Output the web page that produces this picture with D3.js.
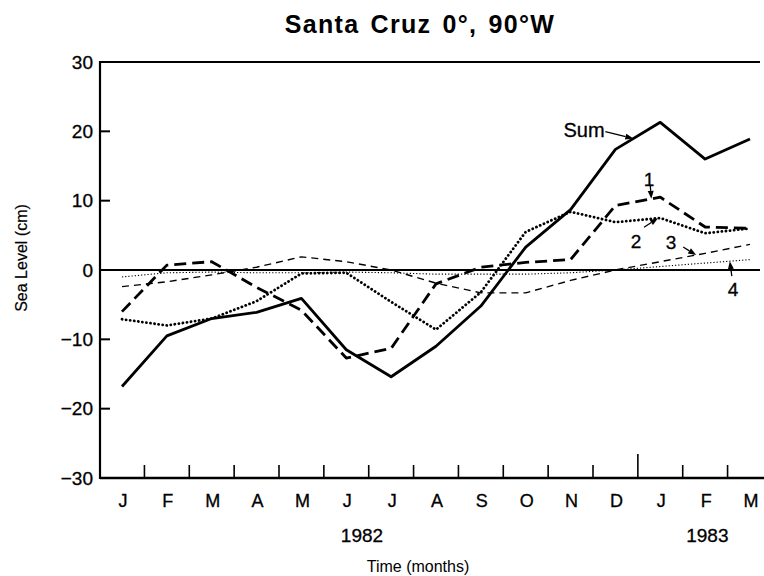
<!DOCTYPE html>
<html>
<head>
<meta charset="utf-8">
<script src="https://cdn.jsdelivr.net/npm/d3@7"></script>
<style>
  html, body { margin: 0; padding: 0; background: #fff; }
  svg { display: block; font-family: "Liberation Sans", Arial, Helvetica, sans-serif; }
</style>
</head>
<body>
<svg id="chart" width="764" height="576"></svg>
<script>
// ---- data ----
const months = ["J","F","M","A","M","J","J","A","S","O","N","D","J","F","M"];
const yearLabels = [{label: "1982", at: 5.35}, {label: "1983", at: 13.05}];
const yTicks = [-30, -20, -10, 0, 10, 20, 30];
const sumSeries = [-16.8, -9.5, -7.0, -6.1, -4.1, -11.5, -15.4, -11.0, -5.2, 3.3, 8.7, 17.4, 21.3, 16.0, 18.9];
const series1 = [-6.0, 0.7, 1.2, -2.5, -5.8, -12.7, -11.3, -2.0, 0.4, 1.1, 1.5, 9.3, 10.5, 6.2, 6.0];
const series2 = [-7.1, -8.0, -7.0, -4.5, -0.5, -0.4, -4.6, -8.6, -3.2, 5.5, 8.4, 6.9, 7.5, 5.3, 6.0];
const series3 = [-2.4, -1.7, -0.7, 0.4, 1.9, 1.2, 0.0, -1.9, -3.3, -3.3, -1.5, 0.0, 1.2, 2.4, 3.7];
const series4 = [-1.0, -0.4, -0.3, -0.4, -0.4, -0.3, -0.4, -0.6, -0.6, -0.6, -0.4, 0.0, 0.5, 1.0, 1.5];

const svg = d3.select("#chart");
const pLeft = 100, pTop = 62, pBottom = 478, pRight = 760;

const x = d3.scaleLinear().domain([0, months.length - 1]).range([122, 750]);
const y = d3.scaleLinear().domain([-30, 30]).range([pBottom, pTop]);
const step = x(1) - x(0);

// Title
svg.append("text").attr("x", 420).attr("y", 33).attr("text-anchor", "middle")
  .attr("font-size", 25).attr("font-weight", "bold")
  .attr("letter-spacing", 1.3).attr("word-spacing", 3)
  .text("Santa Cruz 0°, 90°W");

// Frame: left axis, top line, bottom axis
svg.append("line").attr("x1", pLeft).attr("x2", pLeft).attr("y1", pTop - 1).attr("y2", pBottom + 1)
  .attr("stroke", "#000").attr("stroke-width", 2.2);
svg.append("line").attr("x1", pLeft).attr("x2", pRight).attr("y1", pTop).attr("y2", pTop)
  .attr("stroke", "#000").attr("stroke-width", 2.2);
svg.append("line").attr("x1", pLeft).attr("x2", 764).attr("y1", pBottom).attr("y2", pBottom)
  .attr("stroke", "#000").attr("stroke-width", 2.6);
// zero line
svg.append("line").attr("x1", pLeft).attr("x2", pRight).attr("y1", y(0)).attr("y2", y(0))
  .attr("stroke", "#000").attr("stroke-width", 1.8);

// Y ticks and labels
const yAxis = d3.axisLeft(y).tickValues(yTicks).tickSize(0).tickPadding(7)
  .tickFormat(d => d < 0 ? "\u2212" + Math.abs(d) : String(d));
const gy = svg.append("g").attr("transform", `translate(${pLeft},0)`).call(yAxis);
gy.select(".domain").remove();
gy.selectAll("text").attr("font-size", 19).attr("fill", "#000")
  .attr("stroke", "#000").attr("stroke-width", 0.3)
  .attr("font-family", "Liberation Sans, Arial, sans-serif");
svg.selectAll(".ytick").data(yTicks.filter(d => d !== 0 && Math.abs(d) !== 30)).enter()
  .append("line").attr("x1", pLeft).attr("x2", pLeft + 10)
  .attr("y1", d => y(d)).attr("y2", d => y(d)).attr("stroke", "#000").attr("stroke-width", 2);

// X ticks between months
const tickIdx = d3.range(months.length - 1);
svg.selectAll(".xtick").data(tickIdx).enter().append("line")
  .attr("x1", d => x(d) + step / 2).attr("x2", d => x(d) + step / 2)
  .attr("y1", pBottom).attr("y2", d => d === 11 ? pBottom - 24 : pBottom - 13)
  .attr("stroke", "#000").attr("stroke-width", 1.6);

// Month labels
svg.selectAll(".mlab").data(months).enter().append("text")
  .attr("x", (d, i) => x(i) + 1).attr("y", 507).attr("text-anchor", "middle")
  .attr("font-size", 18).attr("stroke", "#000").attr("stroke-width", 0.3).text(d => d);
svg.selectAll(".ylab").data(yearLabels).enter().append("text")
  .attr("x", d => x(d.at)).attr("y", 542).attr("text-anchor", "middle")
  .attr("font-size", 19).attr("stroke", "#000").attr("stroke-width", 0.3).text(d => d.label);

// Axis titles
svg.append("text").attr("x", 418).attr("y", 572).attr("text-anchor", "middle")
  .attr("font-size", 16).text("Time (months)");
svg.append("text").attr("transform", "translate(27,258) rotate(-90)").attr("text-anchor", "middle")
  .attr("font-size", 16).attr("stroke", "#000").attr("stroke-width", 0.2).text("Sea Level (cm)");

// Lines
const line = d3.line().x((d, i) => x(i)).y(d => y(d));
const seriesDefs = [
  {data: series4, width: 1.1, dash: "1.2,2", cap: "butt"},
  {data: series3, width: 1.4, dash: "7,5", cap: "butt"},
  {data: series2, width: 2.8, dash: "0.1,4", cap: "round"},
  {data: series1, width: 2.8, dash: "12,6", cap: "butt"},
  {data: sumSeries, width: 2.8, dash: null, cap: "butt"}
];
seriesDefs.forEach(s => {
  svg.append("path").datum(s.data).attr("d", line).attr("fill", "none")
    .attr("stroke", "#000").attr("stroke-width", s.width)
    .attr("stroke-dasharray", s.dash).attr("stroke-linecap", s.cap)
    .attr("stroke-linejoin", "round");
});

// Annotations (arrow tips anchored on series)
function valAt(arr, t) {
  const i = Math.floor(t), f = t - i;
  return i >= arr.length - 1 ? arr[arr.length - 1] : arr[i] * (1 - f) + arr[i + 1] * f;
}
function arrow(x1, y1, x2, y2) {
  const ang = Math.atan2(y2 - y1, x2 - x1);
  const L = 8, W = 3;
  const bx = x2 - L * Math.cos(ang), by = y2 - L * Math.sin(ang);
  svg.append("line").attr("x1", x1).attr("y1", y1).attr("x2", bx).attr("y2", by)
    .attr("stroke", "#000").attr("stroke-width", 1.3);
  svg.append("path").attr("d", `M${x2},${y2} L${bx - W * Math.sin(ang)},${by + W * Math.cos(ang)} L${bx + W * Math.sin(ang)},${by - W * Math.cos(ang)} Z`)
    .attr("fill", "#000");
}
const annotations = [
  {text: "Sum", data: sumSeries, t: 11.4, tx: 584, ty: 137, ax: -28, ay: -7, size: 20},
  {text: "1", data: series1, t: 11.8, tx: 649, ty: 186, ax: -1, ay: -13, size: 19},
  {text: "2", data: series2, t: 11.95, tx: 636, ty: 248, ax: -14, ay: 9, size: 19},
  {text: "3", data: series3, t: 12.8, tx: 671, ty: 249, ax: -13, ay: -8, size: 19},
  {text: "4", data: series4, t: 13.55, tx: 733, ty: 296, ax: 2, ay: 15, size: 19}
];
annotations.forEach(a => {
  const px = x(a.t), py = y(valAt(a.data, a.t));
  svg.append("text").attr("x", a.tx).attr("y", a.ty).attr("text-anchor", "middle")
    .attr("font-size", a.size).attr("stroke", "#000").attr("stroke-width", 0.3).text(a.text);
  arrow(px + a.ax, py + a.ay, px, py);
});
</script>
</body>
</html>
